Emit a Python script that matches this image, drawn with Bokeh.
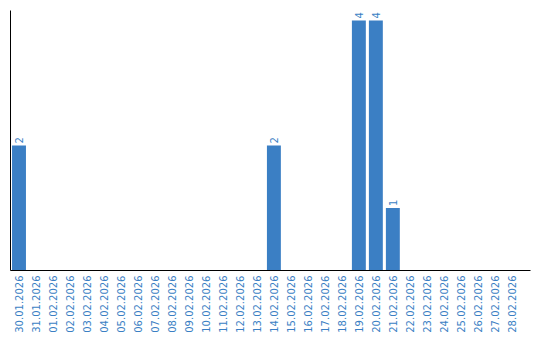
import math
from bokeh.plotting import figure
from bokeh.models import ColumnDataSource, Range1d, FixedTicker
from bokeh.core.properties import value
from bokeh.embed import file_html
from bokeh.resources import INLINE

dates = ["30.01.2026", "31.01.2026", "01.02.2026", "02.02.2026", "03.02.2026",
         "04.02.2026", "05.02.2026", "06.02.2026", "07.02.2026", "08.02.2026",
         "09.02.2026", "10.02.2026", "11.02.2026", "12.02.2026", "13.02.2026",
         "14.02.2026", "15.02.2026", "16.02.2026", "17.02.2026", "18.02.2026",
         "19.02.2026", "20.02.2026", "21.02.2026", "22.02.2026", "23.02.2026",
         "24.02.2026", "25.02.2026", "26.02.2026", "27.02.2026", "28.02.2026"]
counts = [2, 0, 0, 0, 0, 0, 0, 0, 0, 0, 0, 0, 0, 0, 0,
          2, 0, 0, 0, 0, 4, 4, 1, 0, 0, 0, 0, 0, 0, 0]

BLUE = "#3b7fc4"
FONT = "DejaVu Sans"

xs = list(range(len(dates)))
src = ColumnDataSource(dict(x=xs, y=counts))
lab_x = [i for i, c in zip(xs, counts) if c > 0]
lab_y = [c for c in counts if c > 0]
lab_t = [str(c) for c in counts if c > 0]
lab_src = ColumnDataSource(dict(x=lab_x, y=lab_y, t=lab_t))

p = figure(width=540, height=340, output_backend="svg", toolbar_location=None,
           x_range=Range1d(-0.5, 30.1), y_range=Range1d(0, 4.16),
           min_border_left=10, min_border_right=10,
           min_border_top=10, min_border_bottom=70)
p.outline_line_color = None
p.xgrid.visible = False
p.ygrid.visible = False

p.vbar(x="x", top="y", width=0.82, source=src, fill_color=BLUE, line_color=None)
p.text(x="x", y="y", text="t", source=lab_src, angle=math.pi / 2,
       text_align="left", text_baseline="middle", y_offset=-2,
       text_color=BLUE, text_font=value(FONT), text_font_size="10px")

ya = p.yaxis[0]
ya.ticker = FixedTicker(ticks=[])
ya.major_tick_out = 0
ya.major_tick_in = 0
ya.minor_tick_out = 0
ya.minor_tick_in = 0
ya.major_label_text_font_size = "0px"
ya.major_label_standoff = 0
ya.axis_line_color = "black"
ya.axis_line_width = 1

ax = p.xaxis[0]
ax.ticker = FixedTicker(ticks=xs)
ax.major_label_overrides = {i: d for i, d in zip(xs, dates)}
ax.major_label_orientation = math.pi / 2
ax.major_tick_out = 0
ax.major_tick_in = 0
ax.minor_tick_out = 0
ax.minor_tick_in = 0
ax.major_label_standoff = 5
ax.axis_line_color = "black"
ax.axis_line_width = 1
ax.major_label_text_color = BLUE
ax.major_label_text_font = FONT
ax.major_label_text_font_size = "10px"

open("out.html", "w").write(file_html(p, INLINE))
